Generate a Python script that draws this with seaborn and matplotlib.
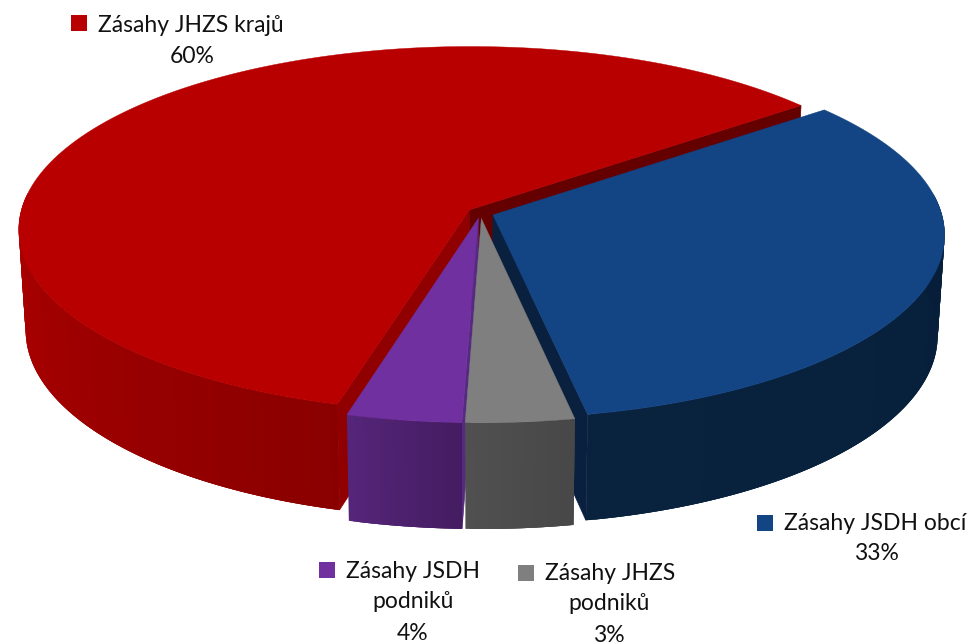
import numpy as np
import seaborn as sns
import matplotlib.pyplot as plt
from matplotlib.patches import Rectangle

# data, counter-clockwise from the red slice
slice_names = ["Zásahy JHZS krajů", "Zásahy JSDH\npodniků", "Zásahy JHZS\npodniků", "Zásahy JSDH obcí"]
slice_shares = [60.23, 3.70, 3.49, 32.58]
top_colors = ["#B80000", "#7030A0", "#7F7F7F", "#134484"]
wall_colors = [
    ("#B00000", "#8A0000"),
    ("#55257A", "#441C60"),
    ("#505050", "#474747"),
    ("#09233F", "#061E3A"),
]
# (face at start angle, face at end angle) of each slice
cut_colors = [("#640000", "#900000"), (None, "#552A80"), (None, None), ("#09203E", None)]

# layout in pixels
CX, CY = 480.3, 213.0
A, B, K = 448.5, 181.4, 0.106
EXPLODE = 0.03
START = 38.0
DRAW_ORDER = [0, 3, 1, 2]
key_xy = [(71, 15), (319, 562), (518, 565), (757, 515)]
label_xy = [(192, 25), (413, 571), (609, 573), (876, 523)]
FONT_SIZE = 16.5
LINE_GAP = 31

sns.set_theme(style="white")
plt.rcParams["font.family"] = ["Lato", "DejaVu Sans"]


def project(u, v):
    w = 1 + K * v
    return CX + A * u / w, CY - B * v / w


def drop(x, y):
    # same point on the bottom plane of the pie
    return CX + (x - CX) * 0.985, y + 100 + (y - CY) * 0.03


fig = plt.figure(figsize=(9.71, 6.44), dpi=100)
ax = fig.add_axes([0, 0, 1, 1])
ax.set_xlim(0, 971)
ax.set_ylim(644, 0)
ax.axis("off")

shares = np.array(slice_shares)
edges = START + np.concatenate([[0], np.cumsum(shares / shares.sum() * 360)])

for i in DRAW_ORDER:
    t0, t1 = edges[i], edges[i + 1]
    mid = np.radians((t0 + t1) / 2)
    ou, ov = EXPLODE * np.cos(mid), EXPLODE * np.sin(mid)
    t = np.radians(np.arange(t0, t1, 0.5).tolist() + [t1])
    x, y = project(np.cos(t) + ou, np.sin(t) + ov)
    xb, yb = drop(x, y)
    tip_x, tip_y = project(ou, ov)
    tip_xb, tip_yb = drop(tip_x, tip_y)

    # cut faces
    for end, color in zip([0, -1], cut_colors[i]):
        if color is not None:
            ax.fill(
                [tip_x, x[end], xb[end], tip_xb],
                [tip_y, y[end], yb[end], tip_yb],
                color=color,
                lw=0.5,
            )

    # outer wall with a soft gradient, only the part facing us
    # each piece runs into the next one so no seams show
    front = np.where(np.sin(t) < 0.1)[0]
    if len(front) > 1:
        shades = sns.blend_palette(wall_colors[i], len(front))
        for j, c in zip(front[:-1], shades):
            k = min(j + 3, len(t) - 1)
            ax.fill(
                [x[j], x[k], xb[k], xb[j]],
                [y[j], y[k], yb[k], yb[j]],
                facecolor=c,
                edgecolor="none",
            )

    # top face
    ax.fill(
        np.r_[tip_x, x],
        np.r_[tip_y, y],
        color=top_colors[i],
        lw=0.3,
    )

# data labels with their legend keys
for name, share, color, (kx, ky), (lx, ly) in zip(
    slice_names, slice_shares, top_colors, key_xy, label_xy
):
    ax.add_patch(Rectangle((kx, ky), 15.5, 15.5, color=color, lw=0))
    ax.text(kx + 27, ly, name.split("\n")[0], fontsize=FONT_SIZE, color="#111111", ha="left", va="center")
    for n, line in enumerate(name.split("\n")[1:] + [f"{share:.0f}%"], start=1):
        ax.text(lx, ly + n * LINE_GAP, line, fontsize=FONT_SIZE, color="#111111", ha="center", va="center")

fig.savefig("out.png", dpi=100)
plt.close(fig)
